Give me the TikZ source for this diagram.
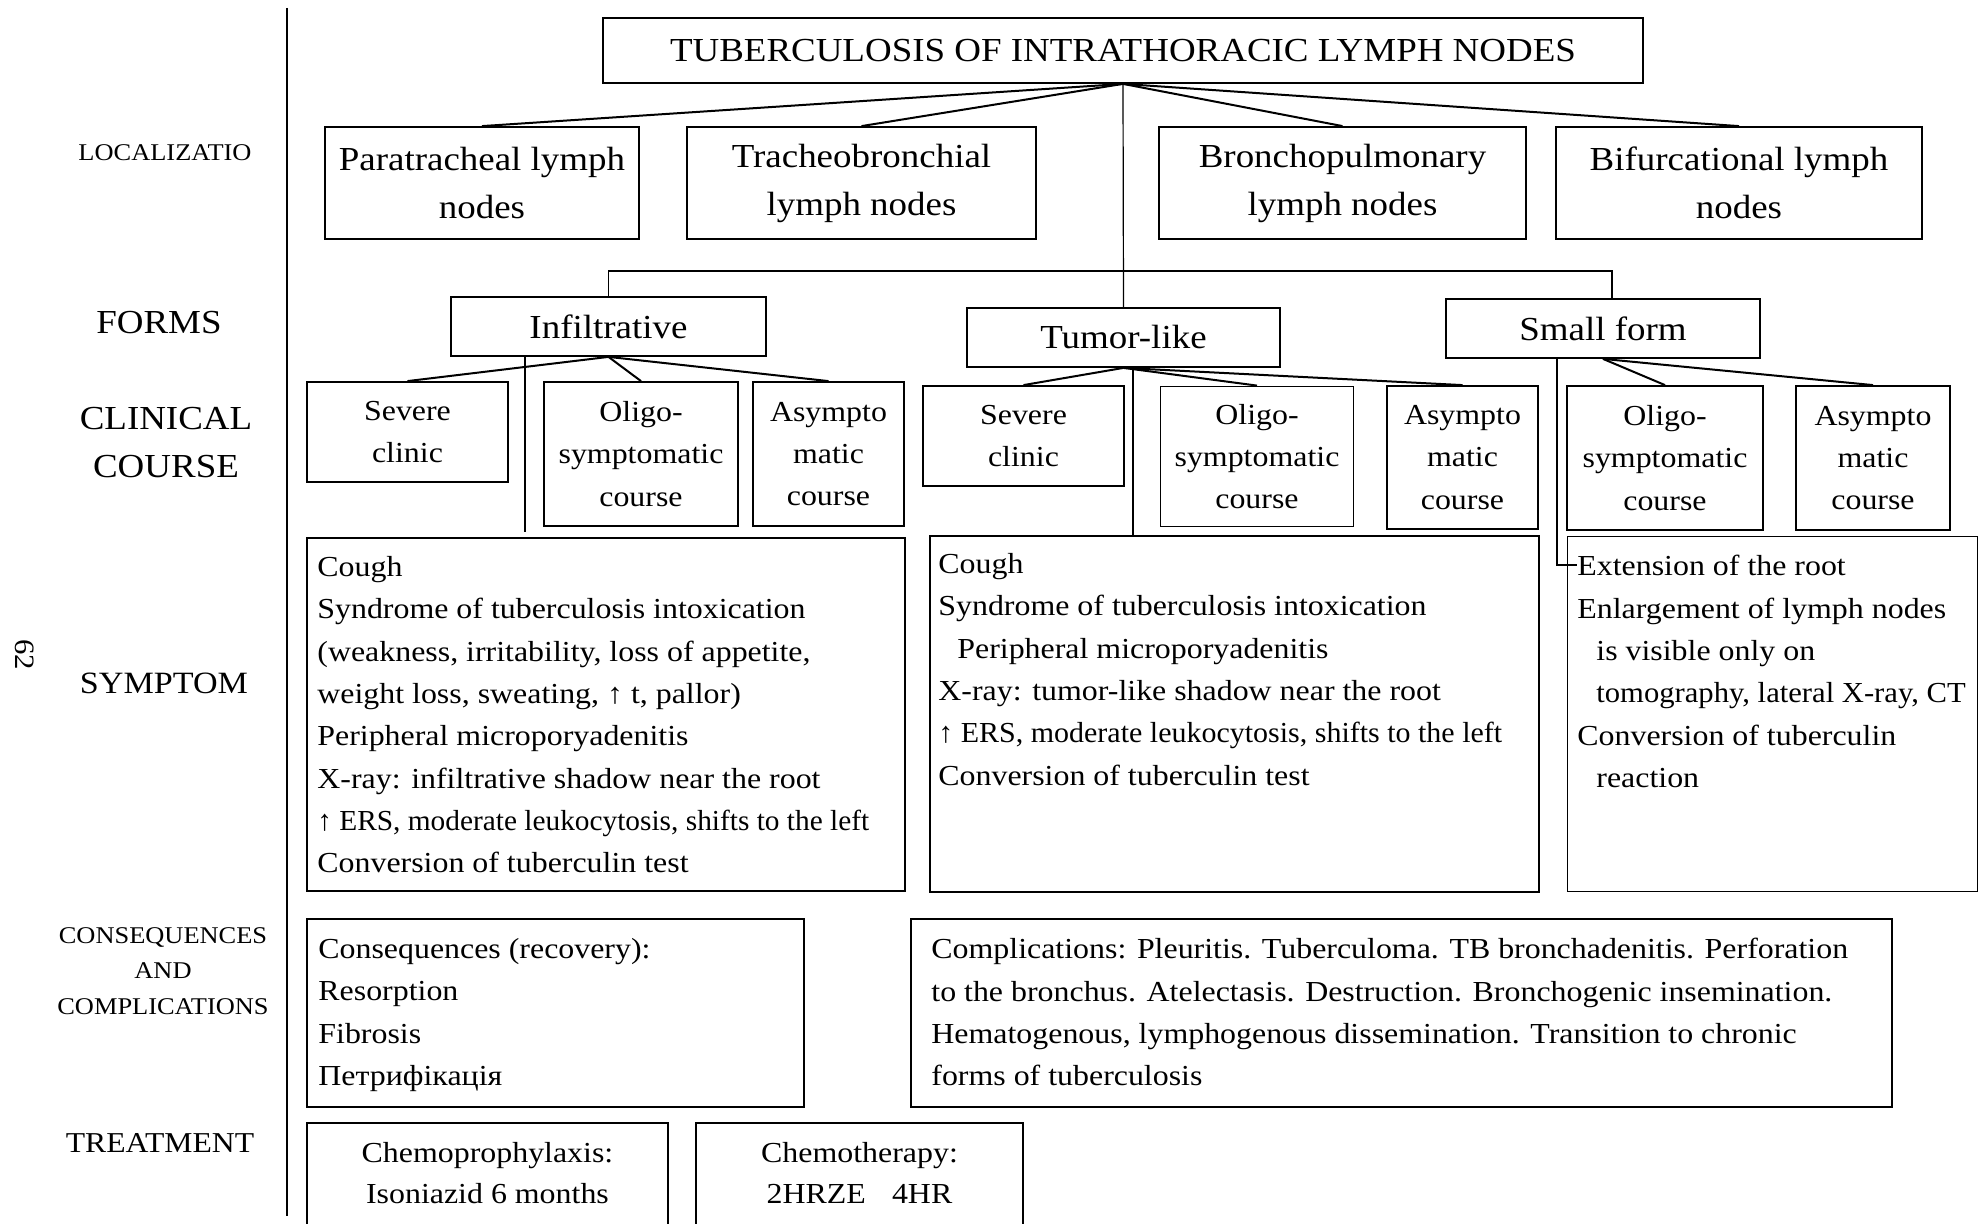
\documentclass[tikz,border=0pt]{standalone}
\usepackage{fontspec}
\setmainfont{Liberation Serif}[FakeStretch=1.1]
\usepackage{graphicx}
\newcommand{\mybigfs}{\fontsize{16.8}{24}\selectfont}
\newcommand{\mybodyfs}{\fontsize{14.5}{21.15}\selectfont}
\begin{document}
\begin{tikzpicture}[x=0.5pt,y=-0.5pt,
  box/.style={draw, line width=0.9pt, inner sep=0pt, align=center},
  bigbox/.style={box, font=\mybigfs},
  smallbox/.style={box, font=\mybodyfs},
  conn/.style={line width=1pt},
  vline/.style={line width=0.6pt},
  bodytxt/.style={inner sep=0pt, align=left, anchor=north west, font=\mybodyfs},
  lbl/.style={inner sep=0pt, align=center},
]
\path[use as bounding box] (0,0) rectangle (1983,1224);
\fill[white] (0,0) rectangle (1983,1224);
\clip (0,0) rectangle (1983,1224);

% left margin
\coordinate (lt) at (287,8);
\coordinate (lb) at (287,1216);
\draw[line width=0.8pt] (lt) -- (lb);
\node[lbl, rotate=-90, font=\fontsize{14}{16}\selectfont] (page) at (25,655) {62};

\node[lbl, font=\fontsize{12}{14}\selectfont] (lLoc) at (165,153) {LOCALIZATIO};
\node[lbl, font=\fontsize{16.8}{24}\selectfont] (lForms) at (159,323) {FORMS};
\node[lbl, font=\fontsize{16.8}{24}\selectfont] (lClin) at (166,443) {CLINICAL\\COURSE};
\node[lbl, font=\fontsize{15.5}{18}\selectfont] (lSym) at (164,683) {SYMPTOM};
\node[lbl, font=\fontsize{12}{17.7}\selectfont] (lCons) at (163,971) {CONSEQUENCES\\AND\\COMPLICATIONS};
\node[lbl, font=\fontsize{14.4}{17}\selectfont] (lTreat) at (160,1143) {TREATMENT};

% title
\node[bigbox, minimum width=520pt, minimum height=32.5pt] (title) at (1123,50.5) {TUBERCULOSIS OF INTRATHORACIC LYMPH NODES};

% localization
\node[bigbox, minimum width=157pt, minimum height=56pt] (para) at (482,183) {Paratracheal lymph\\nodes};
\node[bigbox, minimum width=174.5pt, minimum height=56pt] (trach) at (861.5,183) {Tracheobronchial\\lymph nodes};
\node[bigbox, minimum width=183.5pt, minimum height=56pt] (bronch) at (1342.5,183) {Bronchopulmonary\\lymph nodes};
\node[bigbox, minimum width=183pt, minimum height=56pt] (bifur) at (1739,183) {Bifurcational lymph\\nodes};

% forms
\node[bigbox, minimum width=157.5pt, minimum height=29.5pt] (infil) at (608.5,326.5) {Infiltrative};
\node[bigbox, minimum width=156.5pt, minimum height=29.5pt] (tumor) at (1123.5,337.5) {Tumor-like};
\node[bigbox, minimum width=157pt, minimum height=29.5pt] (small) at (1603,328.5) {Small form};

% clinical course
\node[smallbox, minimum width=100.5pt, minimum height=50pt] (sevA) at (407.5,432) {Severe\\clinic};
\node[smallbox, minimum width=97pt, minimum height=72pt] (oliA) at (641,454) {Oligo-\\symptomatic\\course};
\node[smallbox, minimum width=75.5pt, minimum height=72pt] (asyA) at (828.5,454) {Asympto\\matic\\course};
\node[smallbox, minimum width=100.5pt, minimum height=50pt] (sevB) at (1023.5,436) {Severe\\clinic};
\node[smallbox, minimum width=96.5pt, minimum height=70pt] (oliB) at (1257,456.5) {Oligo-\\symptomatic\\course};
\node[smallbox, minimum width=75.5pt, minimum height=71.5pt] (asyB) at (1462.5,457.5) {Asympto\\matic\\course};
\node[smallbox, minimum width=98pt, minimum height=72pt] (oliC) at (1665,458) {Oligo-\\symptomatic\\course};
\node[smallbox, minimum width=77pt, minimum height=72pt] (asyC) at (1873,458) {Asympto\\matic\\course};

% symptom boxes
\node[box, minimum width=299pt, minimum height=176.5pt] (symA) at (606,714.5) {};
\node[box, minimum width=304.5pt, minimum height=178pt] (symB) at (1234.5,714) {};
\node[box, minimum width=205pt, minimum height=177.5pt] (symC) at (1772.5,714) {};
\node[bodytxt] (symAtext) at (317,556) {Cough\\
Syndrome of tuberculosis intoxication\\
(weakness, irritability, loss of appetite,\\
weight loss, sweating, ↑ t, pallor)\\
Peripheral microporyadenitis\\
X-ray: infiltrative shadow near the root\\
\scalebox{0.92}[1]{↑ ERS, moderate leukocytosis, shifts to the left}\\
Conversion of tuberculin test};
\node[bodytxt] (symBtext) at (938,553) {Cough\\
Syndrome of tuberculosis intoxication\\
\hspace*{9.5pt}Peripheral microporyadenitis\\
X-ray: tumor-like shadow near the root\\
\scalebox{0.94}[1]{↑ ERS, moderate leukocytosis, shifts to the left}\\
Conversion of tuberculin test};
\node[bodytxt] (symCtext) at (1577,555) {Extension of the root\\
Enlargement of lymph nodes\\
\hspace*{9.5pt}is visible only on\\
\hspace*{9.5pt}\scalebox{0.96}[1]{tomography, lateral X-ray, CT}\\
Conversion of tuberculin\\
\hspace*{9.5pt}reaction};

% consequences
\node[box, minimum width=248.5pt, minimum height=94pt] (cons) at (555.5,1013) {};
\node[box, minimum width=490.5pt, minimum height=94pt] (compl) at (1401.5,1013) {};
\node[bodytxt] (consText) at (318,938) {Consequences (recovery):\\
Resorption\\
Fibrosis\\
Петрифікація};
\node[bodytxt] (complText) at (931,938) {Complications: Pleuritis. Tuberculoma. TB bronchadenitis. Perforation\\
to the bronchus. Atelectasis. Destruction. Bronchogenic insemination.\\
Hematogenous, lymphogenous dissemination. Transition to chronic\\
forms of tuberculosis};

% treatment (boxes run past the bottom edge)
\node[box, minimum width=180.5pt, minimum height=58.5pt] (chemA) at (487.5,1181.5) {};
\node[box, minimum width=163.5pt, minimum height=58.5pt] (chemB) at (859.5,1181.5) {};
\node[lbl, font=\fontsize{14.5}{20.5}\selectfont] (chemAtext) at (487.5,1173) {Chemoprophylaxis:\\Isoniazid 6 months};
\node[lbl, font=\fontsize{14.5}{20.5}\selectfont] (chemBtext) at (859.5,1173) {Chemotherapy:\\2HRZE\hspace{0.9em}4HR};

% connectors: title to localization
\draw[conn] (title.south) -- (para.north);
\draw[conn] (title.south) -- (trach.north);
\draw[conn] (title.south) -- (bronch.north);
\draw[conn] (title.south) -- (bifur.north);
% trunk to forms
\draw[vline] (title.south) -- (tumor.north);
\coordinate (barL) at (608.5,271);
\coordinate (barR) at (1612,271);
\draw[vline] (infil.north) -- (barL) -- (barR) -- (barR |- small.north);
% forms to clinical course
\draw[conn] (infil.south) -- (sevA.north);
\draw[conn] (infil.south) -- (oliA.north);
\draw[conn] (infil.south) -- (asyA.north);
\draw[conn] (tumor.south) -- (sevB.north);
\draw[conn] (tumor.south) -- (oliB.north);
\draw[conn] (tumor.south) -- (asyB.north);
\draw[conn] (small.south) -- (oliC.north);
\draw[conn] (small.south) -- (asyC.north);
% forms to symptoms
\coordinate (iv) at (525,532);
\draw[vline] (iv |- infil.south) -- (iv);
\coordinate (tv) at (1133,450);
\draw[vline] (tv |- tumor.south) -- (tv |- symB.north);
\coordinate (sv) at (1557,565);
\coordinate (svEnd) at (1577,565);
\draw[vline] (sv |- small.south) -- (sv) -- (svEnd);
\end{tikzpicture}
\end{document}
